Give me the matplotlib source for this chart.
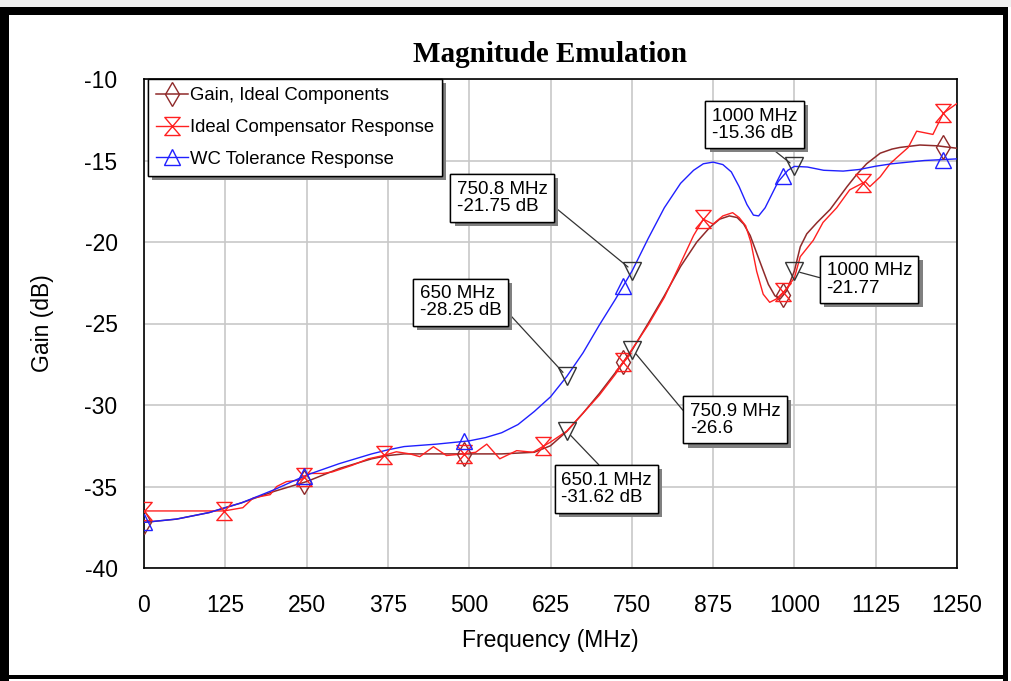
import numpy as np
import matplotlib
matplotlib.use("Agg")
import matplotlib.pyplot as plt
from matplotlib.path import Path
from matplotlib.patches import Rectangle
from matplotlib.lines import Line2D
import matplotlib.patheffects as pe

plt.rcParams["axes.unicode_minus"] = False

# ---------------- data ----------------
wc_freq = [0, 50, 100, 150, 200, 250, 300, 350, 375, 400, 450, 500, 525, 550, 575, 600, 625,
           650, 675, 700, 725, 750.8, 775, 800, 825, 845, 860, 875, 890, 903, 915, 927, 937,
           945, 955, 965, 975, 990, 1000, 1020, 1045, 1075, 1100, 1125, 1150, 1200, 1250]
wc_gain = [-37.2, -37.0, -36.6, -36.0, -35.2, -34.3, -33.6, -33.0, -32.75, -32.55, -32.4,
           -32.2, -32.0, -31.7, -31.2, -30.4, -29.5, -28.25, -26.8, -25.1, -23.5, -21.75, -19.8,
           -17.9, -16.4, -15.6, -15.2, -15.1, -15.25, -15.7, -16.6, -17.7, -18.35, -18.4, -17.9,
           -17.1, -16.3, -15.6, -15.36, -15.4, -15.6, -15.65, -15.55, -15.35, -15.2, -15.0, -14.9]

ideal_freq = [0, 50, 100, 150, 200, 250, 300, 350, 375, 400, 450, 500, 550, 600, 625, 650.1,
              675, 700, 725, 750.9, 775, 800, 825, 850, 870, 885, 900, 912, 922, 932, 945, 960,
              970, 978, 988, 1000, 1009, 1019, 1035, 1055, 1081, 1096, 1111, 1132, 1150, 1162,
              1193, 1220, 1250]
ideal_gain = [-37.2, -37.0, -36.6, -36.0, -35.3, -34.7, -33.9, -33.3, -33.1, -33.0, -33.0, -33.0,
              -33.0, -32.9, -32.5, -31.62, -30.5, -29.3, -28.0, -26.6, -25.0, -23.3, -21.5, -20.0,
              -19.1, -18.6, -18.4, -18.5, -18.9, -19.6, -21.0, -22.6, -23.3, -23.5, -23.0, -21.77,
              -20.3, -19.5, -18.8, -18.0, -16.6, -15.85, -15.2, -14.55, -14.3, -14.2, -14.05, -14.1,
              -14.25]

comp_freq = [0, 123, 152, 168, 194, 204, 219, 240, 255, 275, 290, 320, 345, 368, 388, 409, 424,
             445, 465, 491, 510, 527, 547, 573, 598, 624, 650, 675, 700, 725, 750, 775, 800, 825,
             845, 860, 875, 890, 905, 915, 925, 933, 942, 952, 962, 972, 985, 1000, 1009, 1029,
             1044, 1065, 1085, 1109, 1116, 1132, 1147, 1158, 1175, 1188, 1213, 1229, 1250]
comp_gain = [-36.5, -36.5, -36.3, -35.7, -35.5, -35.0, -34.7, -34.6, -34.2, -34.2, -34.1, -33.7,
             -33.3, -33.1, -32.87, -33.0, -33.17, -32.56, -33.1, -33.0, -32.9, -32.4, -33.3, -32.8,
             -32.9, -32.3, -31.6, -30.5, -29.4, -28.1, -26.6, -25.1, -23.4, -21.3, -19.6, -18.6,
             -18.9, -18.4, -18.2, -18.5, -19.0, -20.0, -21.8, -23.2, -23.7, -23.5, -23.0, -22.2,
             -20.9, -19.9, -18.8, -17.9, -16.8, -16.3, -16.6, -16.0, -15.2, -14.8, -14.2, -13.2,
             -13.4, -12.1, -11.5]

comp_marker_freq = [0, 123, 246, 369, 492, 614, 737, 860, 983, 1106, 1229]
main_marker_freq = [0, 246, 492, 737, 983, 1229]

mk_freq = [650, 750.8, 1000, 1000, 750.9, 650.1]
mk_gain = [-28.25, -21.75, -15.36, -21.77, -26.6, -31.62]
mk_labels = ["650 MHz\n-28.25 dB", "750.8 MHz\n-21.75 dB", "1000 MHz\n-15.36 dB",
             "1000 MHz\n-21.77", "750.9 MHz\n-26.6", "650.1 MHz\n-31.62 dB"]

series_names = ["Gain, Ideal Components", "Ideal Compensator Response", "WC Tolerance Response"]
x_ticks = [0, 125, 250, 375, 500, 625, 750, 875, 1000, 1125, 1250]
y_ticks = [-10, -15, -20, -25, -30, -35, -40]

# ---------------- style ----------------
C_IDEAL = "#8f2a2a"
C_COMP = "#ff2020"
C_WC = "#2020ff"
SANS = ["Liberation Sans", "DejaVu Sans"]

W, H = 1011, 681
fig = plt.figure(figsize=(W / 100, H / 100), dpi=100)
fig.patch.set_facecolor("white")

def px_rect(x0, y0, x1, y1, color):
    fig.patches.append(Rectangle((x0 / W, 1 - y1 / H), (x1 - x0) / W, (y1 - y0) / H,
                                 transform=fig.transFigure, facecolor=color,
                                 edgecolor="none", zorder=-5))

# outer frame
px_rect(0, 0, W, 7, "#f0f0f0")
px_rect(0, 7, 1006, 15, "black")
px_rect(0, 7, 9, H, "black")
px_rect(1003, 7, 1008, H, "black")
px_rect(0, 675, 1008, 679, "black")

ax = fig.add_axes([144 / W, 1 - 568 / H, (957 - 144) / W, (568 - 79) / H])
ax.set_xlim(0, 1250)
ax.set_ylim(-40, -10)
ax.set_xticks(x_ticks)
ax.set_yticks(y_ticks)
ax.grid(True, color="#c8c8c8", lw=1.2)
ax.set_axisbelow(True)
ax.tick_params(length=0, labelsize=16.5, pad=19)
for lab in ax.get_xticklabels() + ax.get_yticklabels():
    lab.set_family(SANS)
for s in ax.spines.values():
    s.set_color("black")
    s.set_linewidth(1.2)

hour = Path([(-0.85, 1), (0.85, 1), (-0.85, -1), (0.85, -1), (-0.85, 1)],
            [Path.MOVETO, Path.LINETO, Path.LINETO, Path.LINETO, Path.CLOSEPOLY])

ax.plot(ideal_freq, ideal_gain, color=C_IDEAL, lw=1.1, zorder=3)
ax.plot(comp_freq, comp_gain, color=C_COMP, lw=1.0, zorder=3)
ax.plot(wc_freq, wc_gain, color=C_WC, lw=1.0, zorder=3)

ax.plot(main_marker_freq, np.interp(main_marker_freq, ideal_freq, ideal_gain), ls="none",
        marker="d", ms=12, mfc="none", mec=C_IDEAL, mew=1.0, zorder=4)
ax.plot(comp_marker_freq, np.interp(comp_marker_freq, comp_freq, comp_gain), ls="none",
        marker=hour, ms=13, mfc="none", mec=C_COMP, mew=1.0, zorder=4)
ax.plot(main_marker_freq, np.interp(main_marker_freq, wc_freq, wc_gain), ls="none",
        marker="^", ms=12, mfc="none", mec=C_WC, mew=1.0, zorder=4)

ax.plot(mk_freq, mk_gain, ls="none", marker="v", ms=13, mfc="none", mec="#333333",
        mew=1.0, zorder=6)

# annotation boxes (layout only)
box_pos = [(487, -23.7), (551, -17.3), (939, -12.8), (1115, -22.3), (909, -30.9), (711, -35.15)]
box_rel = [(1, 0.4), (1, 0.4), (0.6, 0.0), (0, 0.5), (0, 0.53), (0.49, 1.0)]
shadow = [pe.withSimplePatchShadow(offset=(3, -3), shadow_rgbFace="#808080", alpha=1.0),
          pe.Normal()]
for f, g, txt, pos, rp in zip(mk_freq, mk_gain, mk_labels, box_pos, box_rel):
    ann = ax.annotate(txt, xy=(f, g), xytext=pos, textcoords="data", ha="center", va="center",
                      multialignment="left", fontsize=13.5, family=SANS, linespacing=1.02,
                      bbox=dict(boxstyle="square,pad=0.35", fc="white", ec="black", lw=1.0),
                      arrowprops=dict(arrowstyle="-", color="#333333", lw=0.9, shrinkA=0,
                                      shrinkB=4, relpos=rp),
                      zorder=7)
    ann.get_bbox_patch().set_path_effects(shadow)

# legend
handles = [
    Line2D([], [], color=C_IDEAL, lw=1.1, marker="d", ms=12, mfc="none", mec=C_IDEAL),
    Line2D([], [], color=C_COMP, lw=1.0, marker=hour, ms=13, mfc="none", mec=C_COMP),
    Line2D([], [], color=C_WC, lw=1.0, marker="^", ms=12, mfc="none", mec=C_WC),
]
leg = ax.legend(handles, series_names, loc="upper left", bbox_to_anchor=(0.005, 1.0),
                borderaxespad=0, fancybox=False, framealpha=1, edgecolor="black",
                prop={"family": SANS, "size": 13.3}, handlelength=1.7, handletextpad=0.1,
                labelspacing=0.8, borderpad=0.45, numpoints=1)
leg.get_frame().set_linewidth(1.0)
leg.get_frame().set_path_effects(shadow)
leg.set_zorder(8)

ax.set_title("Magnitude Emulation", fontsize=21, fontweight="bold",
             family=["Liberation Serif", "DejaVu Serif"], pad=12)
ax.set_xlabel("Frequency (MHz)", fontsize=16.5, family=SANS, labelpad=8)
ax.set_ylabel("Gain (dB)", fontsize=16.5, family=SANS, labelpad=22)

fig.savefig("out.png", dpi=100)
